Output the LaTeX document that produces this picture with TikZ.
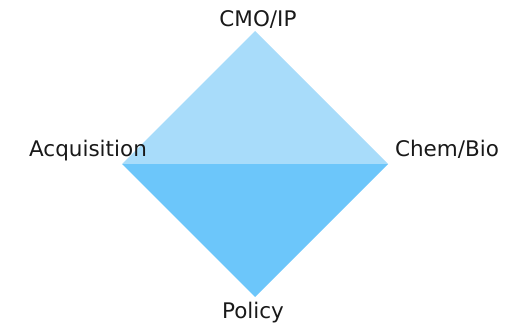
\documentclass[tikz,border=0pt]{standalone}
\usepackage{fontspec}
\setmainfont{DejaVu Sans}
\usetikzlibrary{positioning}
\definecolor{uppercol}{RGB}{168,220,250}
\definecolor{lowercol}{RGB}{108,198,250}
\definecolor{textcol}{RGB}{25,25,25}
\begin{document}
\begin{tikzpicture}[x=1pt,y=-1pt,
    lbl/.style={font=\fontsize{21.5}{21.5}\selectfont, text=textcol, inner sep=0pt, anchor=base}]
    \useasboundingbox (0,0) rectangle (522,326);

    % Draw the corners
    \coordinate (T) at (255,31);
    \coordinate (L) at (122,164);
    \coordinate (R) at (388,164);
    \coordinate (B) at (255,297);

    % Draw the two halves
    \fill[uppercol] (L) -- (T) -- (R) -- cycle;
    \fill[lowercol] (L) -- (B) -- (R) -- cycle;

    % Draw the labels
    \node[lbl] (cmo) at (258,27) {CMO/IP};
    \node[lbl] (acq) at (88,157) {Acquisition};
    \node[lbl] (chem) at (447,157) {Chem/Bio};
    \node[lbl] (pol) at (253,318) {Policy};
\end{tikzpicture}
\end{document}
